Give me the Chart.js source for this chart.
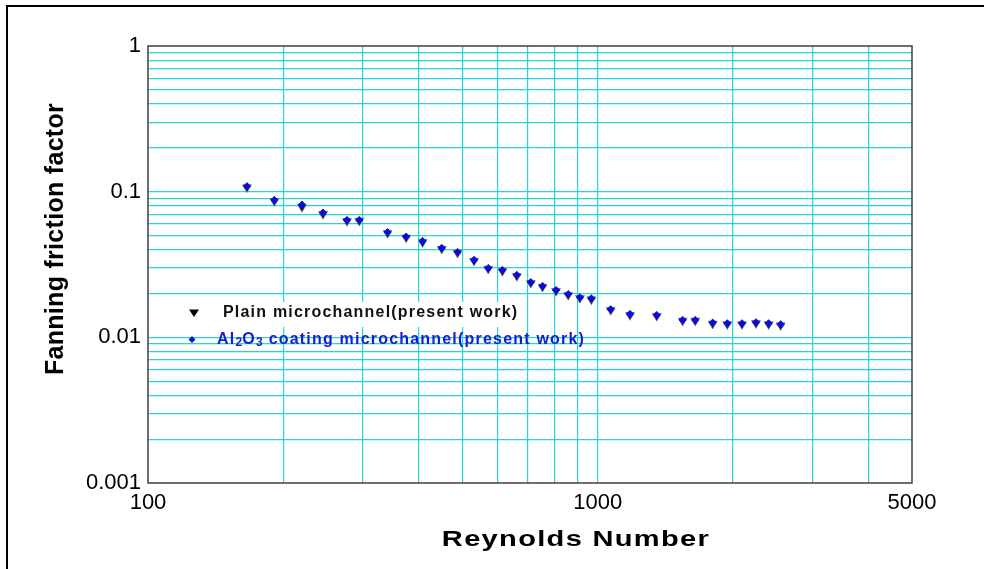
<!DOCTYPE html>
<html>
<head>
<meta charset="utf-8">
<script src="https://cdn.jsdelivr.net/npm/chart.js@4.4.1/dist/chart.umd.min.js"></script>
<style>
  html, body { margin: 0; padding: 0; background: #fff; }
  #wrap { width: 984px; height: 569px; }
</style>
</head>
<body>
<div id="wrap"><canvas id="c" width="984" height="569"></canvas></div>
<script>
// Reynolds number of each measurement
const reynolds = [166, 191, 220, 245, 277, 295, 341, 375, 408, 450, 488, 531, 571, 614, 661,
  710, 754, 808, 860, 913, 968, 1069, 1180, 1353, 1545, 1648, 1802, 1942, 2094, 2249, 2400, 2552];

// Fanning friction factor, plain microchannel
const fPlain = [0.107, 0.0862, 0.0785, 0.0702, 0.0628, 0.0630, 0.0520, 0.0484, 0.0450, 0.0405,
  0.0380, 0.0335, 0.0295, 0.0285, 0.0263, 0.0236, 0.0222, 0.0208, 0.0195, 0.0186, 0.0182,
  0.0154, 0.0142, 0.0140, 0.0130, 0.0130, 0.0124, 0.0123, 0.0123, 0.0125, 0.0123, 0.0121];

// Fanning friction factor, Al2O3 coated microchannel
const fCoated = [0.109, 0.0877, 0.0814, 0.0717, 0.0639, 0.0639, 0.0528, 0.0491, 0.0458, 0.0411,
  0.0385, 0.0340, 0.0299, 0.0290, 0.0268, 0.0239, 0.0225, 0.0211, 0.0198, 0.0188, 0.0185,
  0.01558, 0.01446, 0.01423, 0.01315, 0.01315, 0.0126, 0.01248, 0.01248, 0.01268, 0.01248, 0.01228];

// Axis ticks
const xGridValues = [100, 200, 300, 400, 500, 600, 700, 800, 900, 1000, 2000, 3000, 4000, 5000];
const xTickLabels = [100, 1000, 5000];
const yDecades = [0.001, 0.01, 0.1];
const yTickLabels = ['0.001', '0.01', '0.1', '1'];

const yGridValues = [];
yDecades.forEach(d => { for (let k = 1; k <= 9; k++) yGridValues.push(+(d * k).toPrecision(3)); });
yGridValues.push(1);

const FONT = "'Liberation Sans', Arial, sans-serif";
const GRID = 'rgb(38, 214, 214)';

const points = (ys) => reynolds.map((x, i) => ({ x, y: ys[i] }));

// Frame, axis titles and the in-plot legend
const decorations = {
  id: 'decorations',
  afterDraw(chart) {
    const ctx = chart.ctx;
    const a = chart.chartArea;
    ctx.save();

    // outer border (top and left)
    ctx.strokeStyle = '#000';
    ctx.lineWidth = 2;
    ctx.beginPath();
    ctx.moveTo(7, 569);
    ctx.lineTo(7, 6);
    ctx.lineTo(984, 6);
    ctx.stroke();

    // plot frame
    ctx.strokeStyle = '#4a4a4a';
    ctx.lineWidth = 1.6;
    ctx.strokeRect(a.left, a.top, a.right - a.left, a.bottom - a.top);

    // legend
    ctx.fillStyle = '#fff';
    ctx.fillRect(183, 302, 342, 25);

    ctx.fillStyle = '#000';
    ctx.beginPath();
    ctx.moveTo(189, 309.5);
    ctx.lineTo(199, 309.5);
    ctx.lineTo(194, 317);
    ctx.closePath();
    ctx.fill();

    ctx.fillStyle = '#1212e0';
    ctx.beginPath();
    ctx.moveTo(192, 336);
    ctx.lineTo(195.5, 339.5);
    ctx.lineTo(192, 343);
    ctx.lineTo(188.5, 339.5);
    ctx.closePath();
    ctx.fill();

    ctx.textBaseline = 'middle';
    ctx.textAlign = 'left';
    ctx.letterSpacing = '1.2px';
    ctx.font = 'bold 16px ' + FONT;
    ctx.fillStyle = '#111';
    ctx.fillText('Plain microchannel(present work)', 223, 313);

    ctx.fillStyle = '#1a1ad6';
    const segs = [['Al', 0], ['2', 1], ['O', 0], ['3', 1], [' coating microchannel(present work)', 0]];
    let x = 217;
    segs.forEach(([t, sub]) => {
      ctx.font = sub ? 'bold 12px ' + FONT : 'bold 16px ' + FONT;
      ctx.letterSpacing = sub ? '0.3px' : '1.2px';
      ctx.fillText(t, x, sub ? 343 : 340);
      x += ctx.measureText(t).width;
    });

    // axis titles
    ctx.fillStyle = '#000';
    ctx.textAlign = 'center';
    ctx.textBaseline = 'middle';
    ctx.font = 'bold 25px ' + FONT;
    ctx.letterSpacing = '0.3px';
    ctx.save();
    ctx.translate(56, 239);
    ctx.rotate(-Math.PI / 2);
    ctx.fillText('Fanning friction factor', 0, 0);
    ctx.restore();

    ctx.save();
    ctx.translate(576, 540);
    ctx.scale(1.32, 1);
    ctx.font = 'bold 22px ' + FONT;
    ctx.letterSpacing = '1px';
    ctx.fillText('Reynolds Number', 0, 0);
    ctx.restore();

    ctx.restore();
  }
};

new Chart(document.getElementById('c'), {
  type: 'scatter',
  data: {
    datasets: [
      {
        label: 'Al2O3 coating microchannel(present work)',
        data: points(fCoated),
        order: 1,
        pointStyle: 'rectRot',
        pointRadius: 3.6,
        borderWidth: 1,
        backgroundColor: '#0a0ae6',
        borderColor: '#0a0ae6'
      },
      {
        label: 'Plain microchannel(present work)',
        data: points(fPlain),
        order: 2,
        pointStyle: 'triangle',
        rotation: 180,
        pointRadius: 5.2,
        borderWidth: 0.6,
        backgroundColor: '#222',
        borderColor: '#777'
      }
    ]
  },
  options: {
    responsive: false,
    animation: false,
    events: [],
    layout: { padding: { top: 46, right: 72, left: 0, bottom: 0 } },
    plugins: { legend: { display: false }, tooltip: { enabled: false } },
    scales: {
      x: {
        type: 'logarithmic',
        min: 100,
        max: 5000,
        afterBuildTicks: s => { s.ticks = xGridValues.map(v => ({ value: v })); },
        afterFit: s => { s.height = 86; },
        border: { display: false },
        grid: {
          drawTicks: false,
          lineWidth: 1.2,
          color: c => (c.tick && (c.tick.value === 100 || c.tick.value === 5000)) ? 'rgba(0,0,0,0)' : GRID
        },
        ticks: {
          autoSkip: false,
          maxRotation: 0,
          padding: 7,
          color: '#000',
          font: { family: FONT, size: 22 },
          callback: v => xTickLabels.includes(v) ? String(v) : ''
        }
      },
      y: {
        type: 'logarithmic',
        min: 0.001,
        max: 1,
        afterBuildTicks: s => { s.ticks = yGridValues.map(v => ({ value: v })); },
        afterFit: s => { s.width = 148; },
        border: { display: false },
        grid: {
          drawTicks: false,
          lineWidth: 1.2,
          color: c => (c.tick && (c.tick.value === 0.001 || c.tick.value === 1)) ? 'rgba(0,0,0,0)' : GRID
        },
        ticks: {
          autoSkip: false,
          padding: 7,
          color: '#000',
          font: { family: FONT, size: 22 },
          callback: v => {
            const s = String(+v.toPrecision(3));
            return yTickLabels.includes(s) ? s : '';
          }
        }
      }
    }
  },
  plugins: [decorations]
});
</script>
</body>
</html>
